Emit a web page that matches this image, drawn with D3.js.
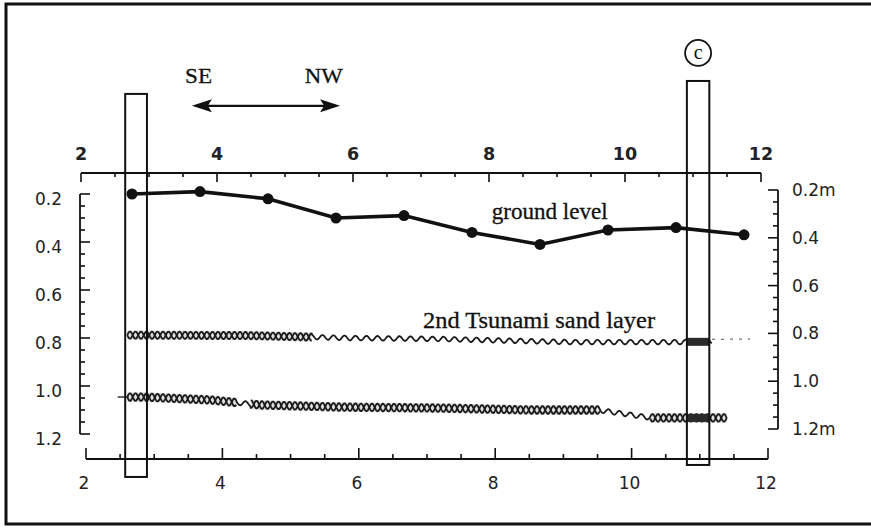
<!DOCTYPE html>
<html>
<head>
<meta charset="utf-8">
<script src="https://cdnjs.cloudflare.com/ajax/libs/d3/7.8.5/d3.min.js"></script>
<style>
body { margin: 0; background: #fff; }
svg { display: block; }
</style>
</head>
<body>
<div id="chart"></div>
<script>
// axes
var xTicks = [2, 4, 6, 8, 10, 12]
var depthTicks = [0.2, 0.4, 0.6, 0.8, 1.0, 1.2]
var leftLabels = ["0.2", "0.4", "0.6", "0.8", "1.0", "1.2"]
var rightLabels = ["0.2m", "0.4", "0.6", "0.8", "1.0", "1.2m"]

// ground level survey points
var groundX = [2.75, 3.75, 4.75, 5.75, 6.75, 7.75, 8.75, 9.75, 10.75, 11.75]
var groundDepth = [0.20, 0.19, 0.22, 0.30, 0.29, 0.36, 0.41, 0.35, 0.34, 0.37]

// 2nd tsunami sand layer (upper band)
var upperX = [2.68, 4.49, 5.96, 7.28, 9.16, 10.84, 11.28]
var upperDepth = [0.788, 0.79, 0.80, 0.804, 0.817, 0.817, 0.815]
var upperTrailX = [11.28, 11.84]
var upperTrailDepth = [0.806, 0.804]

// lower sand band
var lowerX = [2.54, 2.91, 3.90, 4.63, 5.85, 7.28, 8.60, 9.60, 10.40, 11.50]
var lowerDepth = [1.046, 1.046, 1.058, 1.079, 1.088, 1.092, 1.10, 1.10, 1.133, 1.133]

// core boxes
var coreX0 = [2.65, 10.91]
var coreX1 = [2.97, 11.24]
var coreTop = [-0.217, -0.271]
var coreBottom = [1.379, 1.329]
var coreNames = ["", "c"]

var width = 871, height = 528

var svg = d3.select("#chart").append("svg")
    .attr("width", width)
    .attr("height", height)

// scales: top/left carry the data, bottom/right are drawn a little offset like the original
var x = d3.scaleLinear().domain([2, 12]).range([81, 761])
var xb = d3.scaleLinear().domain([2, 12]).range([86, 768])
var y = d3.scaleLinear().domain([0.2, 1.2]).range([194, 434])
var yr = d3.scaleLinear().domain([0.2, 1.2]).range([190, 429])

var numFont = "'DejaVu Sans', sans-serif"
var serif = "'Liberation Serif', 'Times New Roman', serif"

// frame
svg.append("rect")
    .attr("x", 6).attr("y", 4)
    .attr("width", 900).attr("height", 520)
    .attr("fill", "none")
    .attr("stroke", "#111")
    .attr("stroke-width", 3)

// //////////
// TOP AXIS
// //////////
var halfSteps = d3.range(2, 12.01, 0.5)
var topAxis = svg.append("g")
topAxis.append("line")
    .attr("x1", x(2)).attr("x2", x(12))
    .attr("y1", 173).attr("y2", 173)
    .attr("stroke", "#111").attr("stroke-width", 1.8)
topAxis.selectAll("tick")
    .data(halfSteps)
    .enter()
    .append("line")
        .attr("x1", d => x(d)).attr("x2", d => x(d))
        .attr("y1", 173)
        .attr("y2", d => d % 2 == 0 ? 182 : 177)
        .attr("stroke", "#111").attr("stroke-width", 1.6)
topAxis.selectAll("lab")
    .data(xTicks)
    .enter()
    .append("text")
        .attr("x", d => x(d))
        .attr("y", 160)
        .attr("text-anchor", "middle")
        .style("font-family", "'DejaVu Sans', sans-serif")
        .style("font-weight", "bold")
        .style("font-size", "17.5px")
        .attr("fill", "#222")
        .text(d => d)

// //////////
// BOTTOM AXIS
// //////////
var bottomAxis = svg.append("g")
bottomAxis.append("line")
    .attr("x1", xb(2)).attr("x2", xb(12))
    .attr("y1", 459).attr("y2", 459)
    .attr("stroke", "#111").attr("stroke-width", 1.8)
bottomAxis.selectAll("tick")
    .data(halfSteps)
    .enter()
    .append("line")
        .attr("x1", d => xb(d)).attr("x2", d => xb(d))
        .attr("y1", 459)
        .attr("y2", d => d % 2 == 0 ? 448 : 454)
        .attr("stroke", "#111").attr("stroke-width", 1.6)
bottomAxis.selectAll("lab")
    .data(xTicks)
    .enter()
    .append("text")
        .attr("x", d => xb(d) - 2)
        .attr("y", 489)
        .attr("text-anchor", "middle")
        .style("font-family", numFont)
        .style("font-size", "17px")
        .attr("fill", "#222")
        .text(d => d)

// //////////
// LEFT AXIS
// //////////
var depthSteps = d3.range(0.2, 1.2001, 0.05)
var leftAxis = svg.append("g")
leftAxis.append("line")
    .attr("x1", 80).attr("x2", 80)
    .attr("y1", y(0.2)).attr("y2", y(1.2))
    .attr("stroke", "#111").attr("stroke-width", 1.8)
leftAxis.selectAll("tick")
    .data(depthSteps)
    .enter()
    .append("line")
        .attr("x1", 80)
        .attr("x2", (d, i) => i % 4 == 0 ? 90 : 85)
        .attr("y1", d => y(d)).attr("y2", d => y(d))
        .attr("stroke", "#111").attr("stroke-width", 1.6)
leftAxis.selectAll("lab")
    .data(depthTicks)
    .enter()
    .append("text")
        .attr("x", 62)
        .attr("y", d => y(d) + 11)
        .attr("text-anchor", "end")
        .style("font-family", numFont)
        .style("font-size", "17px")
        .attr("fill", "#222")
        .text((d, i) => leftLabels[i])

// //////////
// RIGHT AXIS
// //////////
var rightAxis = svg.append("g")
rightAxis.append("line")
    .attr("x1", 778).attr("x2", 778)
    .attr("y1", yr(0.2)).attr("y2", yr(1.2))
    .attr("stroke", "#111").attr("stroke-width", 1.8)
rightAxis.selectAll("tick")
    .data(depthSteps)
    .enter()
    .append("line")
        .attr("x1", 778)
        .attr("x2", (d, i) => i % 4 == 0 ? 768 : 773)
        .attr("y1", d => yr(d)).attr("y2", d => yr(d))
        .attr("stroke", "#111").attr("stroke-width", 1.6)
rightAxis.selectAll("lab")
    .data(depthTicks)
    .enter()
    .append("text")
        .attr("x", 792)
        .attr("y", d => yr(d) + 6)
        .style("font-family", numFont)
        .style("font-size", "17px")
        .attr("fill", "#222")
        .text((d, i) => rightLabels[i])

// //////////
// SAND LAYERS
// //////////
function braid(xs, ds, from, to, thin, amp, period) {
    var interp = d3.scaleLinear().domain(xs).range(ds)
    var p0 = x(from), p1 = x(to)
    var pts = d3.range(p0, p1, 0.5).map(function (px) {
        var v = x.invert(px)
        return {
            px: px,
            c: y(interp(v)),
            s: Math.sin(2 * Math.PI * (px - p0) / period),
            thin: thin.some(r => v >= r[0] && v <= r[1])
        }
    })
    var g = svg.append("g")
        .attr("fill", "none")
    // soft grey halo, like the smudged print of the sand symbol
    g.append("path")
        .attr("d", d3.line().defined(d => !d.thin).x(d => d.px).y(d => d.c)(pts))
        .attr("stroke", "#c8c8c8")
        .attr("stroke-width", amp * 2 + 2)
        .attr("opacity", 0.6)
    g.append("path")
        .attr("d", d3.line().x(d => d.px).y(d => d.c + (d.thin ? 2.3 : amp) * d.s)(pts))
        .attr("stroke", "#1a1a1a").attr("stroke-width", 1.8)
    g.append("path")
        .attr("d", d3.line().defined(d => !d.thin).x(d => d.px).y(d => d.c - amp * d.s)(pts))
        .attr("stroke", "#1a1a1a").attr("stroke-width", 1.8)
    return interp
}

var upperInterp = braid(upperX, upperDepth, upperX[0], upperX[upperX.length - 1], [[5.4, 12]], 3.6, 11)
var lowerInterp = braid(lowerX, lowerDepth, 2.68, lowerX[lowerX.length - 1], [[4.29, 4.49], [9.63, 10.37]], 3.8, 11)

// thin lead-in of the lower band
svg.append("path")
    .attr("d", d3.line().x(d => x(d[0])).y(d => y(d[1]))([[lowerX[0], lowerDepth[0]], [2.7, lowerDepth[0]]]))
    .attr("stroke", "#222").attr("stroke-width", 1.4).attr("fill", "none")

// dotted continuation of the upper band
svg.append("path")
    .attr("d", d3.line().x(d => x(d[0])).y(d => y(d[1]))(upperTrailX.map((v, i) => [v, upperTrailDepth[i]])))
    .attr("stroke", "#777").attr("stroke-width", 1.3)
    .attr("stroke-dasharray", "3,6").attr("fill", "none")

// //////////
// GROUND LEVEL
// //////////
var groundPts = groundX.map((v, i) => [v, groundDepth[i]])
svg.append("path")
    .attr("d", d3.line().x(d => x(d[0])).y(d => y(d[1]))(groundPts))
    .attr("fill", "none")
    .attr("stroke", "#111")
    .attr("stroke-width", 3.6)
svg.selectAll("groundDot")
    .data(groundPts)
    .enter()
    .append("circle")
        .attr("cx", d => x(d[0]))
        .attr("cy", d => y(d[1]))
        .attr("r", 5.5)
        .attr("fill", "#111")

// //////////
// CORES
// //////////
coreX0.forEach(function (c0, i) {
    var c1 = coreX1[i]
    var mid = (c0 + c1) / 2
    if (coreNames[i]) {
        // darkened sand where the core cuts the layers
        ;[upperInterp, lowerInterp].forEach(function (f) {
            svg.append("rect")
                .attr("x", x(c0)).attr("width", x(c1) - x(c0))
                .attr("y", y(f(mid)) - 4).attr("height", 8)
                .attr("fill", "#2a2a2a")
        })
        svg.append("circle")
            .attr("cx", x(mid)).attr("cy", y(coreTop[i]) - 28)
            .attr("r", 13)
            .attr("fill", "none").attr("stroke", "#111").attr("stroke-width", 1.8)
        svg.append("text")
            .attr("x", x(mid)).attr("y", y(coreTop[i]) - 22)
            .attr("text-anchor", "middle")
            .style("font-family", serif)
            .style("font-size", "20px")
            .attr("fill", "#111")
            .text(coreNames[i])
    }
    svg.append("rect")
        .attr("x", x(c0)).attr("width", x(c1) - x(c0))
        .attr("y", y(coreTop[i])).attr("height", y(coreBottom[i]) - y(coreTop[i]))
        .attr("fill", "none")
        .attr("stroke", "#111")
        .attr("stroke-width", 2)
})

// //////////
// ANNOTATIONS
// //////////
function label(txt, xv, dv, len, size) {
    svg.append("text")
        .attr("x", x(xv)).attr("y", y(dv))
        .attr("textLength", len)
        .attr("lengthAdjust", "spacingAndGlyphs")
        .style("font-family", serif)
        .style("font-size", size + "px")
        .attr("fill", "#111")
        .attr("stroke", "#111").attr("stroke-width", 0.3)
        .text(txt)
}
label("ground level", 8.04, 0.304, 116, 24)
label("2nd Tsunami sand layer", 7.03, 0.758, 232, 23)
label("SE", 3.53, -0.2625, 27, 22)
label("NW", 5.29, -0.2625, 38, 22)

// direction arrow
var arrowY = y(-0.1675)
var ax0 = x(3.63), ax1 = x(5.81)
svg.append("line")
    .attr("x1", ax0 + 10).attr("x2", ax1 - 10)
    .attr("y1", arrowY).attr("y2", arrowY)
    .attr("stroke", "#111").attr("stroke-width", 2.2)
svg.append("path")
    .attr("d", "M" + ax0 + "," + arrowY + "L" + (ax0 + 20) + "," + (arrowY - 6.5) + "L" + (ax0 + 16) + "," + arrowY + "L" + (ax0 + 20) + "," + (arrowY + 6.5) + "Z")
    .attr("fill", "#111")
svg.append("path")
    .attr("d", "M" + ax1 + "," + arrowY + "L" + (ax1 - 20) + "," + (arrowY - 6.5) + "L" + (ax1 - 16) + "," + arrowY + "L" + (ax1 - 20) + "," + (arrowY + 6.5) + "Z")
    .attr("fill", "#111")
</script>
</body>
</html>
